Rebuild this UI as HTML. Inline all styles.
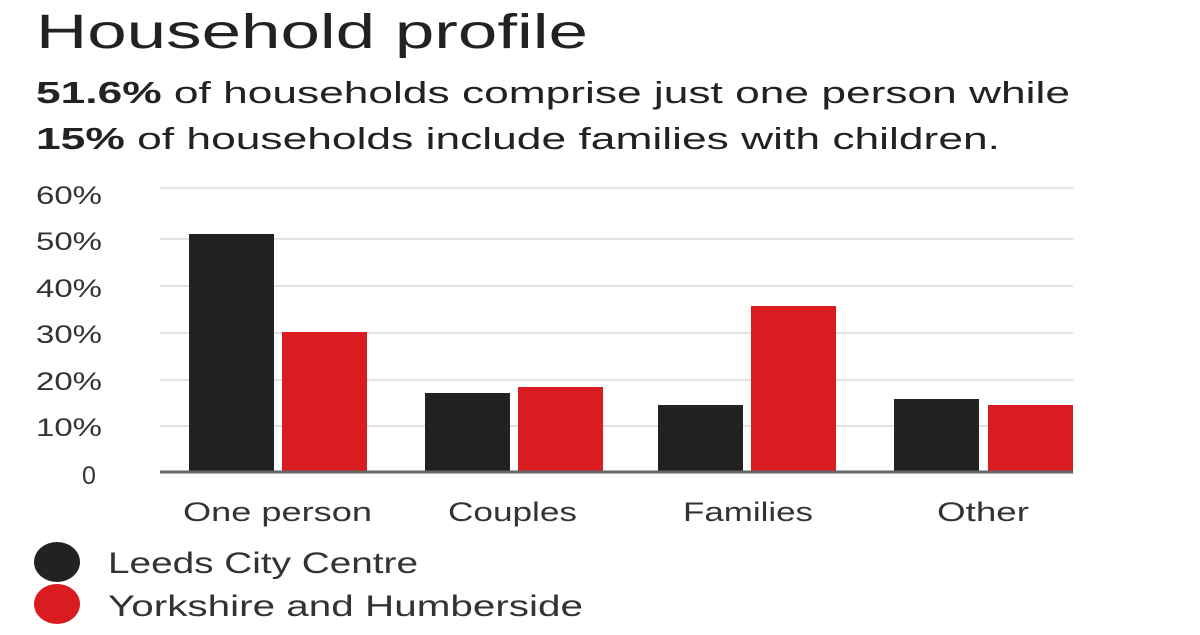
<!DOCTYPE html>
<html><head><meta charset="utf-8"><style>
body{margin:0;width:1200px;height:630px;background:#fff;overflow:hidden;font-family:"Liberation Sans",sans-serif;color:#222}
</style></head><body>
<svg width="1200" height="630" xmlns="http://www.w3.org/2000/svg" font-family="Liberation Sans, sans-serif">
<text x="36" y="48" font-size="48" fill="#222" textLength="552" lengthAdjust="spacingAndGlyphs">Household profile</text>
<text x="36" y="103" font-size="31" fill="#222" textLength="1034" lengthAdjust="spacingAndGlyphs"><tspan font-weight="bold">51.6%</tspan> of households comprise just one person while</text>
<text x="36" y="149" font-size="31" fill="#222" textLength="964" lengthAdjust="spacingAndGlyphs"><tspan font-weight="bold">15%</tspan> of households include families with children.</text>
<g stroke="#e3e3e3" stroke-width="2">
<line x1="160" y1="188" x2="1073" y2="188"/>
<line x1="160" y1="239" x2="1073" y2="239"/>
<line x1="160" y1="286" x2="1073" y2="286"/>
<line x1="160" y1="333" x2="1073" y2="333"/>
<line x1="160" y1="380" x2="1073" y2="380"/>
<line x1="160" y1="426" x2="1073" y2="426"/>
</g>
<g font-size="25" fill="#333">
<text x="36" y="204" textLength="66" lengthAdjust="spacingAndGlyphs">60%</text>
<text x="36" y="250" textLength="66" lengthAdjust="spacingAndGlyphs">50%</text>
<text x="36" y="297" textLength="66" lengthAdjust="spacingAndGlyphs">40%</text>
<text x="36" y="343" textLength="66" lengthAdjust="spacingAndGlyphs">30%</text>
<text x="36" y="390" textLength="66" lengthAdjust="spacingAndGlyphs">20%</text>
<text x="36" y="436" textLength="66" lengthAdjust="spacingAndGlyphs">10%</text>
<text x="82" y="484">0</text>
</g>
<g fill="#222">
<rect x="189" y="234" width="85" height="238"/>
<rect x="425" y="393" width="85" height="79"/>
<rect x="658" y="405" width="85" height="67"/>
<rect x="894" y="399" width="85" height="73"/>
</g>
<g fill="#d81c20">
<rect x="282" y="332" width="85" height="140"/>
<rect x="518" y="387" width="85" height="85"/>
<rect x="751" y="306" width="85" height="166"/>
<rect x="988" y="405" width="85" height="67"/>
</g>
<line x1="160" y1="472" x2="1073" y2="472" stroke="#666" stroke-width="3"/>
<g font-size="27" fill="#333">
<text x="183" y="521" textLength="189" lengthAdjust="spacingAndGlyphs">One person</text>
<text x="448" y="521" textLength="129" lengthAdjust="spacingAndGlyphs">Couples</text>
<text x="683" y="521" textLength="130" lengthAdjust="spacingAndGlyphs">Families</text>
<text x="937" y="521" textLength="92" lengthAdjust="spacingAndGlyphs">Other</text>
</g>
<ellipse cx="57" cy="562" rx="23" ry="20" fill="#222"/>
<ellipse cx="57" cy="604" rx="23" ry="20" fill="#d81c20"/>
<text x="108" y="573" font-size="30" fill="#333" textLength="310" lengthAdjust="spacingAndGlyphs">Leeds City Centre</text>
<text x="108" y="616" font-size="30" fill="#333" textLength="475" lengthAdjust="spacingAndGlyphs">Yorkshire and Humberside</text>
</svg>
</body></html>
